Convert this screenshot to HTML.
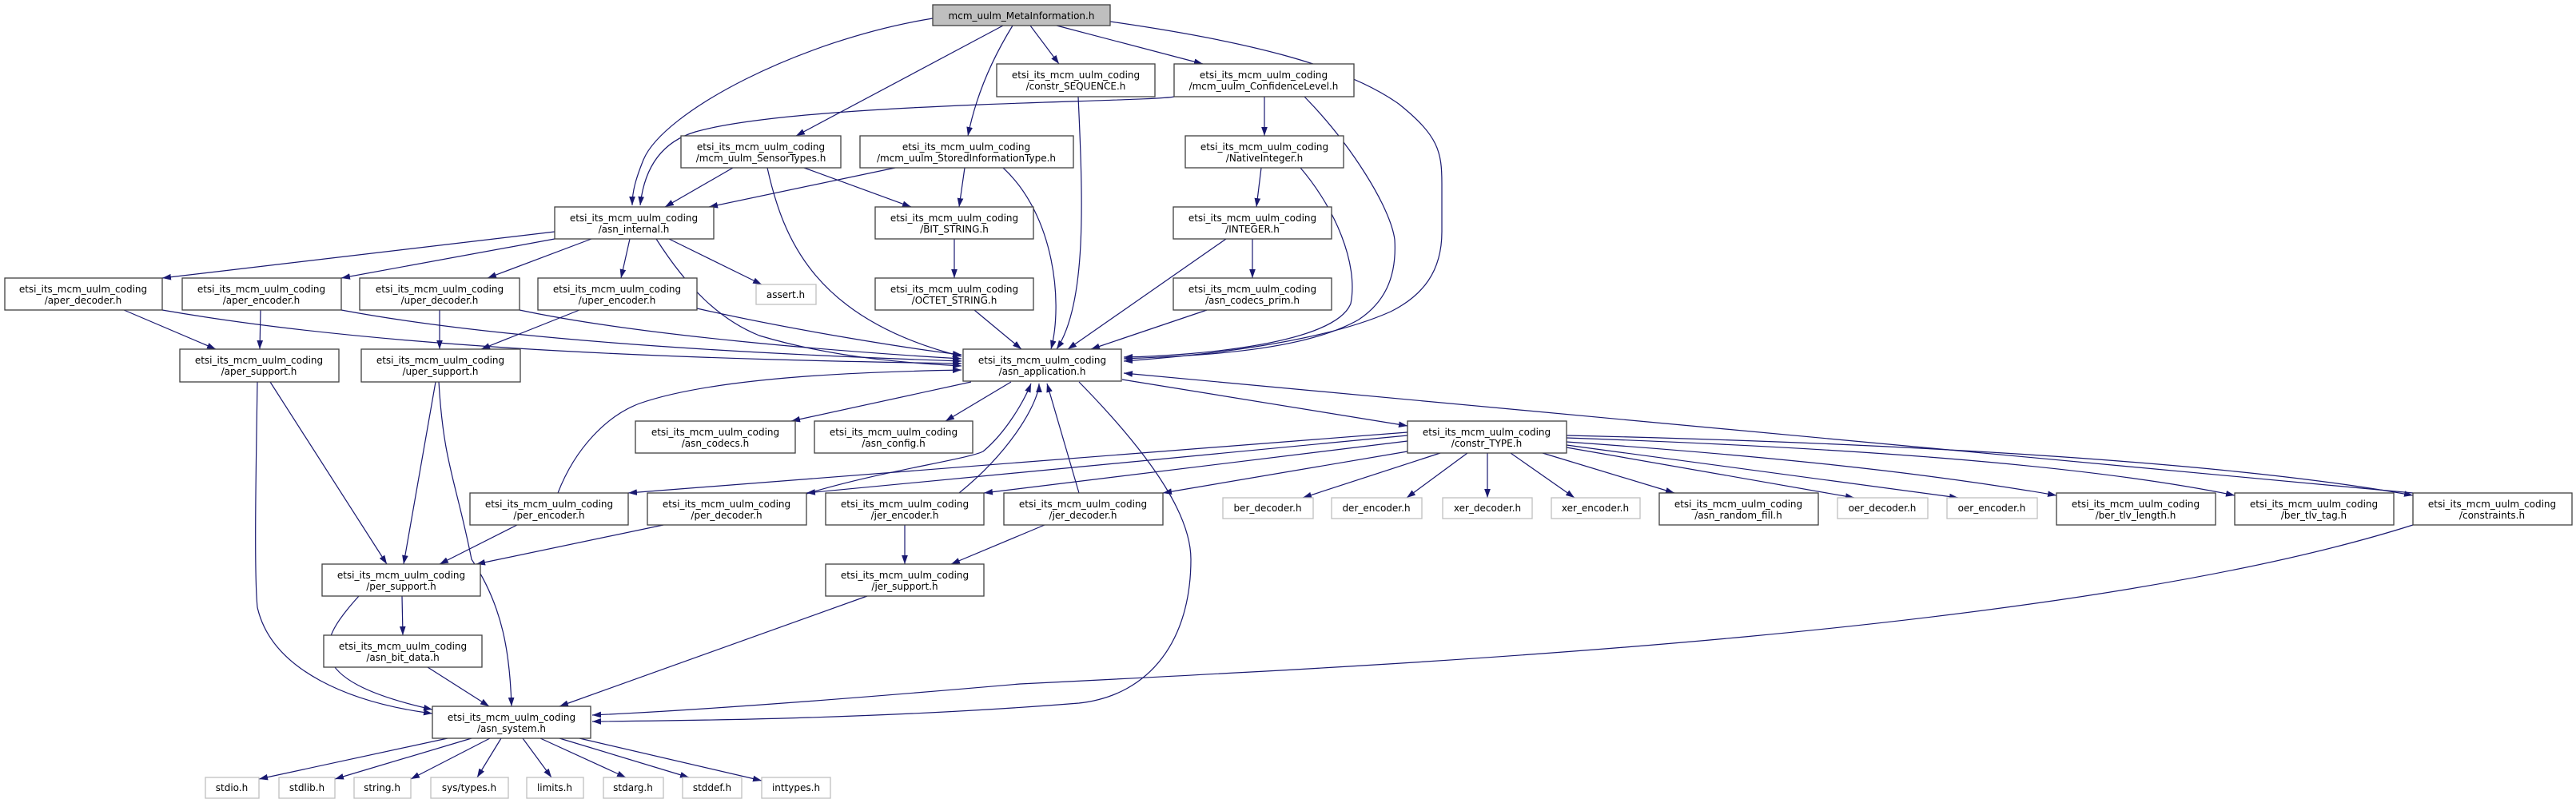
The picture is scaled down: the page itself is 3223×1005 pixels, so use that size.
<!DOCTYPE html>
<html><head><meta charset="utf-8"><style>
html,body{margin:0;padding:0;background:#fff;}
svg{display:block;}
text{font-family:"DejaVu Sans","Liberation Sans",sans-serif;font-size:12px;fill:#000;text-anchor:middle;}
.n{fill:#fff;stroke:#404040;stroke-width:1.3;}
.g{fill:#fff;stroke:#bfbfbf;stroke-width:1.3;}
.e{fill:none;stroke:#191970;stroke-width:1.2;}
</style></head><body>
<svg width="3223" height="1005" viewBox="0 0 3223 1005" xmlns="http://www.w3.org/2000/svg">
<defs><marker id="a" viewBox="0 0 10 7" refX="10" refY="3.5" markerWidth="11" markerHeight="8" markerUnits="userSpaceOnUse" orient="auto"><path d="M0,0L10,3.5L0,7z" fill="#191970"/></marker></defs>
<g class="e" marker-end="url(#a)">
<path d="M1167,23 C1000,50 830,140 805,200 C795,225 791,240 791,257"/>
<path d="M1255,32 L996,170"/>
<path d="M1267,32 Q1225,100 1211,170"/>
<path d="M1289,32 L1325,80"/>
<path d="M1322,32 L1505,80"/>
<path d="M1389,27 C1550,50 1680,80 1750,130 C1800,170 1804,190 1804,230 L1804,290 C1804,340 1780,370 1740,390 C1650,430 1500,445 1406,452"/>
<path d="M1469,121 C1440,128 1000,128 870,165 C820,180 805,220 801,257"/>
<path d="M1582,121 L1582,170"/>
<path d="M1632,121 C1690,180 1740,260 1745,300 C1748,350 1730,380 1700,400 C1630,440 1500,445 1406,449"/>
<path d="M1349,121 C1355,250 1360,380 1322,437"/>
<path d="M917,210 L832,259"/>
<path d="M1006,210 L1140,259"/>
<path d="M960,210 C980,300 1020,400 1203,446"/>
<path d="M1120,210 L887,259"/>
<path d="M1207,210 L1200,259"/>
<path d="M1255,210 C1320,270 1330,380 1315,437"/>
<path d="M1578,210 L1572,259"/>
<path d="M1627,210 C1670,260 1700,330 1690,380 C1670,430 1500,445 1406,447"/>
<path d="M1567,299 L1567,348"/>
<path d="M1534,299 L1336,437"/>
<path d="M1510,388 L1365,437"/>
<path d="M1194,299 L1194,348"/>
<path d="M1219,388 L1278,437"/>
<path d="M694,290 L203,348"/>
<path d="M694,299 L427,348"/>
<path d="M740,299 L610,348"/>
<path d="M788,299 L777,348"/>
<path d="M837,299 L953,356"/>
<path d="M821,299 C860,360 900,400 950,420 C1050,450 1150,455 1203,458"/>
<path d="M155,388 L270,437"/>
<path d="M203,388 C500,440 900,450 1203,455"/>
<path d="M326,388 L325,437"/>
<path d="M427,388 C650,430 1000,445 1203,452"/>
<path d="M550,388 L550,437"/>
<path d="M650,388 C800,420 1050,440 1203,449"/>
<path d="M725,388 L602,437"/>
<path d="M872,386 C1000,415 1150,438 1203,444"/>
<path d="M338,478 L484,706"/>
<path d="M322,478 C320,600 318,720 322,760 C340,840 440,880 541,893"/>
<path d="M545,478 L505,706"/>
<path d="M549,478 C555,580 570,600 590,700 C630,760 638,820 640,884"/>
<path d="M1215,478 L990,527"/>
<path d="M1265,478 L1183,527"/>
<path d="M1404,475 L1761,533"/>
<path d="M1350,478 C1450,580 1490,650 1490,700 C1490,800 1440,870 1350,880 C1100,900 850,902 741,903"/>
<path d="M3019,617 L1406,467"/>
<path d="M3019,657 C2600,790 1800,830 1276,856 C1000,880 850,890 741,895"/>
<path d="M1761,541 L786,617"/>
<path d="M1761,545 L1009,617"/>
<path d="M1761,552 L1231,617"/>
<path d="M1761,565 L1455,617"/>
<path d="M1802,567 L1630,623"/>
<path d="M1836,567 L1760,623"/>
<path d="M1861,567 L1861,623"/>
<path d="M1890,567 L1970,623"/>
<path d="M1930,567 L2095,617"/>
<path d="M1960,560 L2320,623"/>
<path d="M1960,557 L2450,623"/>
<path d="M1960,553 C2200,570 2400,590 2573,620"/>
<path d="M1960,548 C2300,560 2600,580 2796,620"/>
<path d="M1960,545 C2400,555 2800,580 3019,620"/>
<path d="M647,657 L550,706"/>
<path d="M698,617 C720,560 760,520 800,505 C900,470 1100,465 1203,463"/>
<path d="M830,657 L596,706"/>
<path d="M1009,618 C1100,590 1210,575 1230,565 C1260,540 1282,500 1290,480"/>
<path d="M1200,617 C1270,560 1300,500 1300,480"/>
<path d="M1350,617 L1310,480"/>
<path d="M1132,657 L1132,706"/>
<path d="M1307,657 L1190,706"/>
<path d="M503,746 L504,795"/>
<path d="M449,746 C400,800 370,850 541,888"/>
<path d="M535,835 L612,884"/>
<path d="M1085,746 L700,884"/>
<path d="M560,924 L324,975"/>
<path d="M590,924 L419,975"/>
<path d="M613,924 L514,975"/>
<path d="M627,924 L597,973"/>
<path d="M654,924 L690,973"/>
<path d="M676,924 L783,973"/>
<path d="M700,924 L862,973"/>
<path d="M725,924 L953,977"/>
</g>
<!-- nodes -->
<rect x="1167" y="6" width="222" height="26" fill="#bfbfbf" stroke="#404040" stroke-width="1.3"/>
<text x="1278" y="24">mcm_uulm_MetaInformation.h</text>
<g>
<rect class="n" x="1247" y="80" width="198" height="41"/><text x="1346" y="98">etsi_its_mcm_uulm_coding</text><text x="1346" y="112">/constr_SEQUENCE.h</text>
<rect class="n" x="1469" y="80" width="225" height="41"/><text x="1581" y="98">etsi_its_mcm_uulm_coding</text><text x="1581" y="112">/mcm_uulm_ConfidenceLevel.h</text>
<rect class="n" x="852" y="170" width="200" height="40"/><text x="952" y="188">etsi_its_mcm_uulm_coding</text><text x="952" y="202">/mcm_uulm_SensorTypes.h</text>
<rect class="n" x="1076" y="170" width="267" height="40"/><text x="1209" y="188">etsi_its_mcm_uulm_coding</text><text x="1209" y="202">/mcm_uulm_StoredInformationType.h</text>
<rect class="n" x="1483" y="170" width="198" height="40"/><text x="1582" y="188">etsi_its_mcm_uulm_coding</text><text x="1582" y="202">/NativeInteger.h</text>
<rect class="n" x="694" y="259" width="199" height="40"/><text x="793" y="277">etsi_its_mcm_uulm_coding</text><text x="793" y="291">/asn_internal.h</text>
<rect class="n" x="1095" y="259" width="198" height="40"/><text x="1194" y="277">etsi_its_mcm_uulm_coding</text><text x="1194" y="291">/BIT_STRING.h</text>
<rect class="n" x="1468" y="259" width="198" height="40"/><text x="1567" y="277">etsi_its_mcm_uulm_coding</text><text x="1567" y="291">/INTEGER.h</text>
<rect class="n" x="6" y="348" width="197" height="40"/><text x="104" y="366">etsi_its_mcm_uulm_coding</text><text x="104" y="380">/aper_decoder.h</text>
<rect class="n" x="228" y="348" width="199" height="40"/><text x="327" y="366">etsi_its_mcm_uulm_coding</text><text x="327" y="380">/aper_encoder.h</text>
<rect class="n" x="450" y="348" width="200" height="40"/><text x="550" y="366">etsi_its_mcm_uulm_coding</text><text x="550" y="380">/uper_decoder.h</text>
<rect class="n" x="673" y="348" width="199" height="40"/><text x="772" y="366">etsi_its_mcm_uulm_coding</text><text x="772" y="380">/uper_encoder.h</text>
<rect class="g" x="946" y="356" width="75" height="25"/><text x="983" y="373">assert.h</text>
<rect class="n" x="1095" y="348" width="198" height="40"/><text x="1194" y="366">etsi_its_mcm_uulm_coding</text><text x="1194" y="380">/OCTET_STRING.h</text>
<rect class="n" x="1468" y="348" width="198" height="40"/><text x="1567" y="366">etsi_its_mcm_uulm_coding</text><text x="1567" y="380">/asn_codecs_prim.h</text>
<rect class="n" x="225" y="437" width="199" height="41"/><text x="324" y="455">etsi_its_mcm_uulm_coding</text><text x="324" y="469">/aper_support.h</text>
<rect class="n" x="452" y="437" width="199" height="41"/><text x="551" y="455">etsi_its_mcm_uulm_coding</text><text x="551" y="469">/uper_support.h</text>
<rect class="n" x="1205" y="437" width="198" height="40"/><text x="1304" y="455">etsi_its_mcm_uulm_coding</text><text x="1304" y="469">/asn_application.h</text>
<rect class="n" x="795" y="527" width="200" height="40"/><text x="895" y="545">etsi_its_mcm_uulm_coding</text><text x="895" y="559">/asn_codecs.h</text>
<rect class="n" x="1019" y="527" width="198" height="40"/><text x="1118" y="545">etsi_its_mcm_uulm_coding</text><text x="1118" y="559">/asn_config.h</text>
<rect class="n" x="1761" y="527" width="199" height="40"/><text x="1860" y="545">etsi_its_mcm_uulm_coding</text><text x="1860" y="559">/constr_TYPE.h</text>
<rect class="n" x="588" y="617" width="198" height="40"/><text x="687" y="635">etsi_its_mcm_uulm_coding</text><text x="687" y="649">/per_encoder.h</text>
<rect class="n" x="810" y="617" width="199" height="40"/><text x="909" y="635">etsi_its_mcm_uulm_coding</text><text x="909" y="649">/per_decoder.h</text>
<rect class="n" x="1033" y="617" width="198" height="40"/><text x="1132" y="635">etsi_its_mcm_uulm_coding</text><text x="1132" y="649">/jer_encoder.h</text>
<rect class="n" x="1256" y="617" width="199" height="40"/><text x="1355" y="635">etsi_its_mcm_uulm_coding</text><text x="1355" y="649">/jer_decoder.h</text>
<rect class="g" x="1530" y="623" width="113" height="26"/><text x="1586" y="640">ber_decoder.h</text>
<rect class="g" x="1666" y="623" width="113" height="26"/><text x="1722" y="640">der_encoder.h</text>
<rect class="g" x="1805" y="623" width="112" height="26"/><text x="1861" y="640">xer_decoder.h</text>
<rect class="g" x="1941" y="623" width="111" height="26"/><text x="1996" y="640">xer_encoder.h</text>
<rect class="n" x="2076" y="617" width="199" height="40"/><text x="2175" y="635">etsi_its_mcm_uulm_coding</text><text x="2175" y="649">/asn_random_fill.h</text>
<rect class="g" x="2299" y="623" width="113" height="26"/><text x="2355" y="640">oer_decoder.h</text>
<rect class="g" x="2436" y="623" width="113" height="26"/><text x="2492" y="640">oer_encoder.h</text>
<rect class="n" x="2573" y="617" width="199" height="40"/><text x="2672" y="635">etsi_its_mcm_uulm_coding</text><text x="2672" y="649">/ber_tlv_length.h</text>
<rect class="n" x="2796" y="617" width="199" height="40"/><text x="2895" y="635">etsi_its_mcm_uulm_coding</text><text x="2895" y="649">/ber_tlv_tag.h</text>
<rect class="n" x="3019" y="617" width="199" height="40"/><text x="3118" y="635">etsi_its_mcm_uulm_coding</text><text x="3118" y="649">/constraints.h</text>
<rect class="n" x="403" y="706" width="198" height="40"/><text x="502" y="724">etsi_its_mcm_uulm_coding</text><text x="502" y="738">/per_support.h</text>
<rect class="n" x="1033" y="706" width="198" height="40"/><text x="1132" y="724">etsi_its_mcm_uulm_coding</text><text x="1132" y="738">/jer_support.h</text>
<rect class="n" x="405" y="795" width="198" height="40"/><text x="504" y="813">etsi_its_mcm_uulm_coding</text><text x="504" y="827">/asn_bit_data.h</text>
<rect class="n" x="541" y="884" width="198" height="40"/><text x="640" y="902">etsi_its_mcm_uulm_coding</text><text x="640" y="916">/asn_system.h</text>
<rect class="g" x="257" y="973" width="67" height="26"/><text x="290" y="990">stdio.h</text>
<rect class="g" x="349" y="973" width="70" height="26"/><text x="384" y="990">stdlib.h</text>
<rect class="g" x="443" y="973" width="71" height="26"/><text x="478" y="990">string.h</text>
<rect class="g" x="539" y="973" width="97" height="26"/><text x="587" y="990">sys/types.h</text>
<rect class="g" x="659" y="973" width="71" height="26"/><text x="694" y="990">limits.h</text>
<rect class="g" x="755" y="973" width="75" height="26"/><text x="792" y="990">stdarg.h</text>
<rect class="g" x="854" y="973" width="74" height="26"/><text x="891" y="990">stddef.h</text>
<rect class="g" x="953" y="973" width="86" height="26"/><text x="996" y="990">inttypes.h</text>
</g>
</svg>
</body></html>
